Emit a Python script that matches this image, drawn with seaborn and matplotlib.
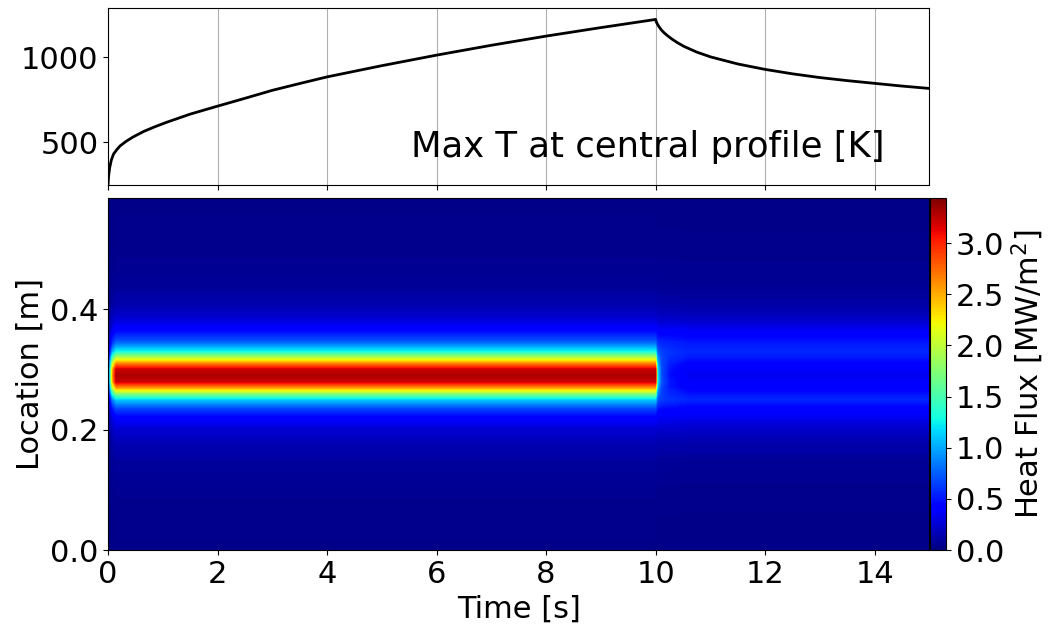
import matplotlib

matplotlib.use("Agg")
import matplotlib.pyplot as plt
import numpy as np
import pandas as pd
import seaborn as sns
from matplotlib.cm import ScalarMappable
from matplotlib.colors import Normalize

# top panel: max temperature at the central profile
TIME_T = [0.0, 0.01, 0.03, 0.06, 0.1, 0.16, 0.22, 0.33, 0.46, 0.65, 0.85, 1.07, 1.5,
          2.0, 2.5, 3.0, 3.5, 4.0, 5.0, 6.0, 7.0, 8.0, 9.0, 10.0,
          10.01, 10.03, 10.06, 10.1, 10.15, 10.21, 10.3, 10.4, 10.52, 10.75, 11.0,
          11.5, 12.0, 12.5, 13.0, 13.5, 14.0, 14.5, 15.0]
MAX_T = [250, 300, 350, 395, 430, 456, 478, 505, 531, 563, 590, 617, 665,
         712, 758, 805, 845, 884, 950, 1012, 1070, 1124, 1174, 1222,
         1210, 1196, 1180, 1162, 1145, 1128, 1106, 1085, 1063, 1030, 1002,
         960, 928, 902, 880, 862, 846, 830, 816]

# heat flux field: vertical profiles and how they are weighted in time
LOCATION_M = [0.0, 0.10, 0.15, 0.18, 0.20, 0.22, 0.235, 0.25, 0.26, 0.27, 0.28, 0.29,
              0.30, 0.31, 0.32, 0.33, 0.345, 0.36, 0.375, 0.39, 0.41, 0.44, 0.50, 0.585]
FLUX_HEATING = [0.04, 0.06, 0.1, 0.16, 0.25, 0.4, 0.65, 1.1, 1.75, 2.55, 3.2, 3.3,
                3.2, 2.6, 1.9, 1.25, 0.75, 0.5, 0.33, 0.22, 0.13, 0.08, 0.05, 0.04]
FLUX_COOLING = [0.03, 0.05, 0.08, 0.14, 0.22, 0.33, 0.42, 0.55, 0.48, 0.4, 0.38, 0.34,
                0.36, 0.42, 0.5, 0.55, 0.5, 0.4, 0.28, 0.18, 0.11, 0.07, 0.05, 0.03]
TIME_FLUX = [0.0, 0.03, 0.08, 0.15, 9.98, 10.0, 10.03, 10.1, 10.25, 10.6, 15.0]
HEATING_WEIGHT = [0.0, 0.3, 0.75, 1.0, 1.0, 1.0, 0.3, 0.12, 0.04, 0.0, 0.0]
COOLING_WEIGHT = [0.0, 0.0, 0.0, 0.0, 0.0, 0.0, 0.7, 0.9, 1.0, 1.0, 1.0]

FLUX_MAX = 3.44


def main() -> None:
    plt.rcParams["font.family"] = ["DejaVu Sans"]
    fig = plt.figure(figsize=(10.49, 6.32), dpi=100)

    ax_top = fig.add_axes([0.103, 0.707, 0.783, 0.280])
    ax = fig.add_axes([0.103, 0.1297, 0.783, 0.557])
    cax = fig.add_axes([0.8866, 0.1297, 0.0153, 0.557])

    temp = pd.DataFrame({"time": TIME_T, "max_t": MAX_T})
    sns.lineplot(data=temp, x="time", y="max_t", color="black", lw=2, ax=ax_top)
    ax_top.set_xlim(0, 15)
    ax_top.set_ylim(247, 1288)
    ax_top.set_xticks(range(0, 15, 2))
    ax_top.set_yticks([500, 1000])
    ax_top.grid(axis="x")
    ax_top.tick_params(labelbottom=False, labelsize=22)
    ax_top.set_xlabel("")
    ax_top.set_ylabel("")
    ax_top.text(0.945, 0.16, "Max T at central profile [K]", transform=ax_top.transAxes,
                ha="right", va="baseline", fontsize=25.5)

    field = (np.outer(HEATING_WEIGHT, FLUX_HEATING)
             + np.outer(COOLING_WEIGHT, FLUX_COOLING)).T
    norm = Normalize(0, FLUX_MAX)
    ax.contourf(TIME_FLUX, LOCATION_M, field, levels=np.linspace(0, FLUX_MAX, 240),
                cmap="jet", norm=norm)
    ax.set_xlim(0, 15)
    ax.set_ylim(0, 0.585)
    ax.set_xticks(range(0, 15, 2))
    ax.set_yticks([0.0, 0.2, 0.4])
    ax.tick_params(labelsize=22)
    ax.set_xlabel("Time [s]", fontsize=22)
    ax.set_ylabel("Location [m]", fontsize=22)

    cbar = fig.colorbar(ScalarMappable(norm=norm, cmap="jet"), cax=cax)
    cbar.set_ticks(np.arange(0, 3.01, 0.5))
    cbar.ax.tick_params(labelsize=22)
    cbar.set_label("Heat Flux [MW/m$^2$]", fontsize=22)

    fig.savefig("out.png", dpi=100)
    plt.close(fig)


if __name__ == "__main__":
    main()
